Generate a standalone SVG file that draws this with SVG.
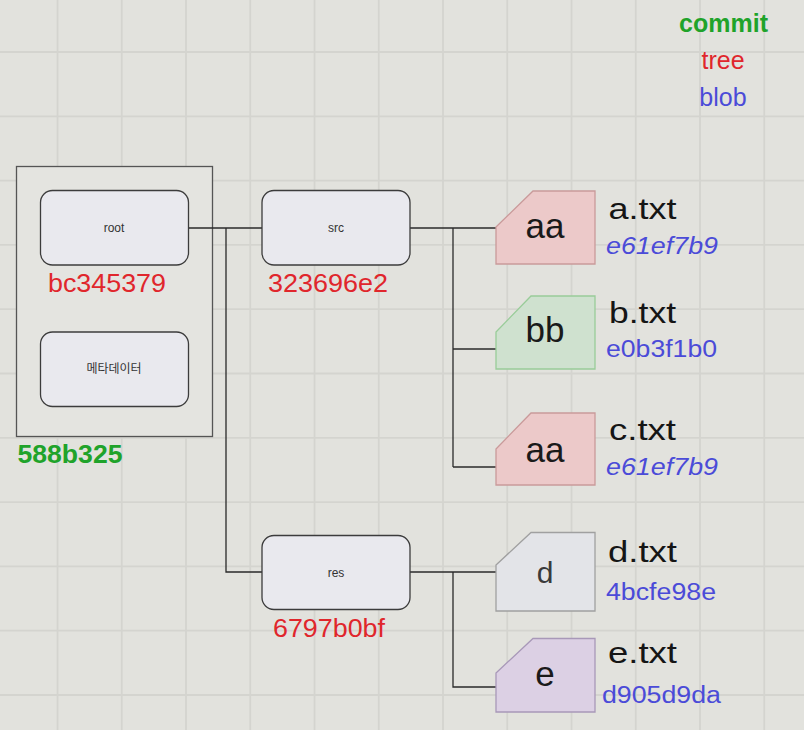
<svg xmlns="http://www.w3.org/2000/svg" width="804" height="730" viewBox="0 0 804 730">
<style>
.grid line{stroke:#d4d4cf;stroke-width:1.8}
.tree{fill:#e9e9ee;stroke:#3c3c3c;stroke-width:1.3}
.small{font-family:"Liberation Sans",Arial,sans-serif;font-size:12px;fill:#333;text-anchor:middle}
.kr{font-family:"Liberation Sans","Noto Sans CJK KR",sans-serif}
.hashR{font-family:"Liberation Sans",Arial,sans-serif;font-size:26px;fill:#e0262c}
.hashG{font-family:"Liberation Sans",Arial,sans-serif;font-size:26px;font-weight:bold;fill:#1fa32a}
.fname{font-family:"Liberation Sans",Arial,sans-serif;font-size:30px;fill:#151515}
.hashB{font-family:"Liberation Sans",Arial,sans-serif;font-size:23px;fill:#4b4bd8}
.blobtxt{font-family:"Liberation Sans",Arial,sans-serif;font-size:35px;fill:#1a1a1a;text-anchor:middle}
.conn path{fill:none;stroke:#2a2a2a;stroke-width:1.3}
.legend{font-family:"Liberation Sans",Arial,sans-serif;font-size:25px;text-anchor:middle}
</style>
<rect width="804" height="730" fill="#e2e2dd"/>
<g class="grid">
<line x1="57.5" y1="0" x2="57.5" y2="730"/>
<line x1="121.75" y1="0" x2="121.75" y2="730"/>
<line x1="186" y1="0" x2="186" y2="730"/>
<line x1="250.25" y1="0" x2="250.25" y2="730"/>
<line x1="314.5" y1="0" x2="314.5" y2="730"/>
<line x1="378.75" y1="0" x2="378.75" y2="730"/>
<line x1="443" y1="0" x2="443" y2="730"/>
<line x1="507.25" y1="0" x2="507.25" y2="730"/>
<line x1="571.5" y1="0" x2="571.5" y2="730"/>
<line x1="635.75" y1="0" x2="635.75" y2="730"/>
<line x1="700" y1="0" x2="700" y2="730"/>
<line x1="764.25" y1="0" x2="764.25" y2="730"/>
<line x1="0" y1="52" x2="804" y2="52"/>
<line x1="0" y1="116.3" x2="804" y2="116.3"/>
<line x1="0" y1="180.6" x2="804" y2="180.6"/>
<line x1="0" y1="244.9" x2="804" y2="244.9"/>
<line x1="0" y1="309.2" x2="804" y2="309.2"/>
<line x1="0" y1="373.5" x2="804" y2="373.5"/>
<line x1="0" y1="437.8" x2="804" y2="437.8"/>
<line x1="0" y1="502.1" x2="804" y2="502.1"/>
<line x1="0" y1="566.4" x2="804" y2="566.4"/>
<line x1="0" y1="630.7" x2="804" y2="630.7"/>
<line x1="0" y1="695" x2="804" y2="695"/>
</g>
<g id="legend">
<text class="legend" x="723.5" y="32" font-weight="bold" fill="#1fa32a">commit</text>
<text class="legend" x="723" y="68.5" fill="#e0262c">tree</text>
<text class="legend" x="723" y="106" fill="#4b4bd8">blob</text>
</g>
<g id="commit">
<rect x="16.5" y="166.5" width="196" height="270" fill="#e4e4e0" stroke="#555" stroke-width="1.3"/>
<text class="hashG" x="17.5" y="463" textLength="105" lengthAdjust="spacingAndGlyphs">588b325</text>
</g>
<g class="conn" id="connectors">
<path d="M189 228H262"/>
<path d="M226 228V572H262"/>
<path d="M410 228H496"/>
<path d="M453 228V467"/>
<path d="M453 349H496"/>
<path d="M453 467H496"/>
<path d="M410 572H496"/>
<path d="M453 572V687H496"/>
</g>
<g id="root">
<rect class="tree" x="40.5" y="190.5" width="148" height="74.5" rx="12"/>
<text class="small" x="114" y="232">root</text>
<text class="hashR" x="48" y="292" textLength="118" lengthAdjust="spacingAndGlyphs">bc345379</text>
</g>
<g id="metadata">
<rect class="tree" x="40.5" y="332" width="148" height="74.5" rx="12"/>
<text class="small kr" x="114" y="373">메타데이터</text>
</g>
<g id="src">
<rect class="tree" x="262" y="190.5" width="148" height="74.5" rx="12"/>
<text class="small" x="336" y="232">src</text>
<text class="hashR" x="268" y="292" textLength="120" lengthAdjust="spacingAndGlyphs">323696e2</text>
</g>
<g id="res">
<rect class="tree" x="262" y="535.5" width="148" height="74" rx="12"/>
<text class="small" x="336" y="577">res</text>
<text class="hashR" x="273" y="637" textLength="112" lengthAdjust="spacingAndGlyphs">6797b0bf</text>
</g>
<g id="blob-a">
<polygon points="496,227 533,191 595,191 595,264 496,264" fill="#ecc9c9" stroke="#c99a9a" stroke-width="1.3"/>
<text class="blobtxt" x="545" y="238">aa</text>
<text class="fname" x="608.5" y="218.5" textLength="68" lengthAdjust="spacingAndGlyphs">a.txt</text>
<text class="hashB" x="606" y="254" font-style="italic" textLength="112" lengthAdjust="spacingAndGlyphs">e61ef7b9</text>
</g>
<g id="blob-b">
<polygon points="496,332 531,296 595,296 595,369 496,369" fill="#cfe1cf" stroke="#99cc99" stroke-width="1.3"/>
<text class="blobtxt" x="545" y="342">bb</text>
<text class="fname" x="609" y="323" textLength="67" lengthAdjust="spacingAndGlyphs">b.txt</text>
<text class="hashB" x="606" y="357" textLength="111" lengthAdjust="spacingAndGlyphs">e0b3f1b0</text>
</g>
<g id="blob-c">
<polygon points="496,449 531,413 595,413 595,485 496,485" fill="#ecc9c9" stroke="#c99a9a" stroke-width="1.3"/>
<text class="blobtxt" x="545" y="462">aa</text>
<text class="fname" x="609" y="440" textLength="67" lengthAdjust="spacingAndGlyphs">c.txt</text>
<text class="hashB" x="606" y="475" font-style="italic" textLength="112" lengthAdjust="spacingAndGlyphs">e61ef7b9</text>
</g>
<g id="blob-d">
<polygon points="496,565 531,532.5 595,532.5 595,611 496,611" fill="#e3e4e8" stroke="#a0a0a0" stroke-width="1.3"/>
<text class="blobtxt" x="545" y="582.5" style="font-size:30px;fill:#3a3a3a">d</text>
<text class="fname" x="608" y="562" textLength="69" lengthAdjust="spacingAndGlyphs">d.txt</text>
<text class="hashB" x="606" y="600" textLength="110" lengthAdjust="spacingAndGlyphs">4bcfe98e</text>
</g>
<g id="blob-e">
<polygon points="496,673 533,638.5 595,638.5 595,712 496,712" fill="#dcd0e4" stroke="#a898b8" stroke-width="1.3"/>
<text class="blobtxt" x="545" y="685.5">e</text>
<text class="fname" x="608" y="663" textLength="69" lengthAdjust="spacingAndGlyphs">e.txt</text>
<text class="hashB" x="602" y="703" textLength="119" lengthAdjust="spacingAndGlyphs">d905d9da</text>
</g>
</svg>
